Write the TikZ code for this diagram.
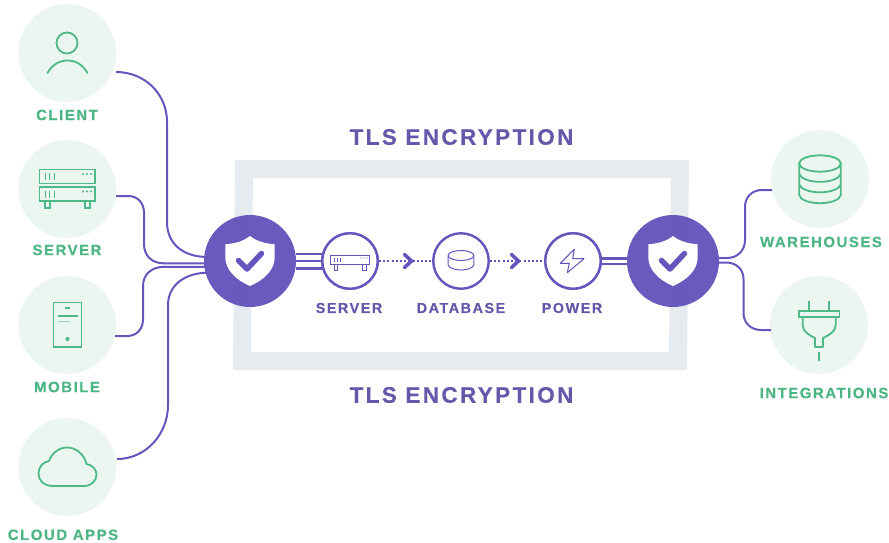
\documentclass[tikz,border=0pt]{standalone}
\usepackage{fontspec}
\setmainfont{Liberation Sans}
\newfontfamily\labfont[LetterSpace=10,BoldFeatures={FakeBold=0.25}]{Liberation Sans}
\newfontfamily\tlsfont[LetterSpace=10.5,BoldFeatures={FakeBold=0.25}]{Liberation Sans}
\definecolor{vio}{HTML}{6655BC}
\definecolor{viotext}{HTML}{6557A9}
\definecolor{grn}{HTML}{4DB986}
\definecolor{grntext}{HTML}{4CB583}
\definecolor{mint}{HTML}{ECF6F1}
\definecolor{band}{HTML}{E6EBEF}
\tikzset{
  x=1pt,y=-1pt,
  conn/.style={draw=vio,line width=2pt},
  stripe/.style={draw=vio,line width=2.8pt},
  bub/.style={circle,fill=mint,minimum size=98pt,inner sep=0pt},
  glab/.style={text=grntext,font=\labfont\bfseries\fontsize{15}{16}\selectfont,inner sep=0pt},
  vlab/.style={text=viotext,font=\labfont\bfseries\fontsize{14.5}{16}\selectfont,inner sep=0pt},
  tls/.style={text=viotext,font=\tlsfont\bfseries\fontsize{22.5}{24}\selectfont,inner sep=0pt},
  shieldc/.style={circle,fill=vio,minimum size=92pt,inner sep=0pt,fill opacity=.97},
  stage/.style={circle,draw=vio,fill=white,line width=2.4pt,minimum size=55.5pt,inner sep=0pt},
  gicon/.style={draw=grn,line width=1.8pt},
  vicon/.style={draw=vio,line width=1pt},
  chev/.style={draw=vio,line width=3.6pt,line cap=round,line join=round},
  dots/.style={draw=vio,line width=2pt,dash pattern=on 2pt off 2.2pt},
  pics/shieldmark/.style={code={
    \fill[white] (0,-25) .. controls (-7,-19.5) and (-15,-17.5) .. (-24.7,-16.7)
      -- (-24.7,-4) .. controls (-24.7,9) and (-14,19) .. (0,25)
      .. controls (14,19) and (24.7,9) .. (24.7,-4) -- (24.7,-16.7)
      .. controls (15,-17.5) and (7,-19.5) .. (0,-25) -- cycle;
    \draw[vio,line width=5.5pt,line cap=round,line join=round] (-11.5,-.5) -- (-3,8) -- (11.5,-7.5);
  }}
}
\begin{document}
\begin{tikzpicture}
\useasboundingbox (0,0) rectangle (889,542);
% gray band
\fill[band,even odd rule] (235,160) -- (689,160) -- (687,370) -- (233,370) -- cycle
  (253,178) -- (671,178) -- (669,352) -- (251,352) -- cycle;
% bubbles
\node[bub] (client) at (67.3,53) {};
\node[bub] (server) at (67.3,189) {};
\node[bub] (mobile) at (67.3,325) {};
\node[bub] (cloud) at (67.3,467) {};
\node[bub] (ware) at (820,179) {};
\node[bub] (integ) at (819,325) {};
% free ends
\coordinate (c1) at (116,72);
\coordinate (c2) at (116,196);
\coordinate (c3) at (115,336);
\coordinate (c4) at (117,459);
\coordinate (c5) at (772,190);
\coordinate (c6) at (771,330);
\coordinate (l1) at (208,257);
\coordinate (l2) at (208,263.3);
\coordinate (l3) at (208,266.8);
\coordinate (l4) at (208,272.7);
\coordinate (r1) at (715,258);
\coordinate (r2) at (715,262.5);
% connectors on the left and right
\draw[conn] (c1) .. controls (145,72) and (167,94) .. (167,122) -- (167,222)
  .. controls (167,243) and (182,257) .. (l1);
\draw[conn] (c2) -- (128,196) .. controls (138,196) and (144,203) .. (144,213) -- (144,244)
  .. controls (144,256) and (152,263.3) .. (164,263.3) -- (l2);
\draw[conn] (c3) -- (127,336) .. controls (137,336) and (143,329) .. (143,319) -- (143,286)
  .. controls (143,274) and (152,266.8) .. (164,266.8) -- (l3);
\draw[conn] (c4) .. controls (146,459) and (168,434) .. (168,405) -- (168,305)
  .. controls (168,286) and (184,272.7) .. (l4);
\draw[conn] (c5) -- (762,190) .. controls (752,190) and (745,197) .. (745,207) -- (745,240)
  .. controls (745,251) and (737,258) .. (727,258) -- (r1);
\draw[conn] (c6) -- (761,330) .. controls (751,330) and (743.5,323) .. (743.5,313) -- (743.5,279)
  .. controls (743.5,269) and (736,262.5) .. (726,262.5) -- (r2);
% shields
\node[shieldc] (sL) at (250,261) {};
\node[shieldc] (sR) at (673,261) {};
\pic at (sL) {shieldmark};
\pic at (sR) {shieldmark};
% stages
\node[stage] (st1) at (350,261) {};
\node[stage] (st2) at (461,261) {};
\node[stage] (st3) at (573,261) {};
\draw[stripe] ([yshift=-7.5pt]sL.east) -- ([yshift=-7.5pt]st1.center);
\draw[stripe] (sL.east) -- (st1.center);
\draw[stripe] ([yshift=7pt]sL.east) -- ([yshift=7pt]st1.center);
\draw[stripe] ([yshift=-3pt]st3.center) -- ([yshift=-3pt]sR.west);
\draw[stripe] ([yshift=2.5pt]st3.center) -- ([yshift=2.5pt]sR.west);
\node[stage] at (st1) {};
\node[stage] at (st3) {};
\draw[dots] (st1.east) -- (st2.west);
\draw[dots] (st2.east) -- (st3.west);
\draw[chev] (404.5,254.5) -- (411.5,261) -- (404.5,267.5);
\draw[chev] (511.5,254.5) -- (518.5,261) -- (511.5,267.5);
% client icon
\draw[gicon] (67,43) circle (10.5);
\draw[gicon,line cap=round] (47.5,73) .. controls (52,65) and (59,60.5) .. (67.5,60.5) .. controls (76,60.5) and (83,65) .. (87.5,73);
% server icon
\draw[gicon] (39.5,169.5) rectangle (95,183.5);
\draw[gicon] (39.5,187) rectangle (95,201);
\draw[gicon] (44.7,201) rectangle (50,208);
\draw[gicon] (85,201) rectangle (90,208);
\foreach \yy in {173,190.5}{
  \draw[grn,line width=1pt] (45,\yy) -- +(0,7) (49.5,\yy) -- +(0,7) (54,\yy) -- +(0,7);
  \fill[grn] (83,\yy+1) circle (1.1) (87,\yy+1) circle (1.1) (91,\yy+1) circle (1.1);
}
% mobile icon
\draw[gicon] (53.5,302.5) rectangle (81.5,347);
\draw[grn,line width=1.6pt] (65,308) -- (70,308);
\draw[grn,line width=1.6pt] (58,316) -- (78,316);
\draw[grn!50!mint,line width=1.6pt] (58,321.5) -- (70,321.5);
\fill[grn] (67.5,339) circle (2.1);
% cloud icon
\draw[gicon] (53,486) -- (84,486) .. controls (92,486) and (96.5,480) .. (96.5,474.5)
  .. controls (96.5,469) and (92,465) .. (86.5,464)
  .. controls (84,454) and (76,447.5) .. (67,447.5)
  .. controls (59,447.5) and (52,453) .. (49,461)
  .. controls (43,462) and (38.5,467) .. (38.5,473.5)
  .. controls (38.5,480.5) and (44,486) .. (53,486) -- cycle;
% warehouse icon
\draw[gicon] (820,163.5) ellipse (20.8 and 8.2);
\draw[gicon] (799.2,163.5) -- (799.2,195) .. controls (800,200) and (810,203.2) .. (820,203.2) .. controls (830,203.2) and (840,200) .. (840.8,195) -- (840.8,163.5);
\draw[gicon] (799.2,174) .. controls (801,179) and (810,181.8) .. (820,181.8) .. controls (830,181.8) and (839,179) .. (840.8,174);
\draw[gicon] (799.2,184.5) .. controls (801,189.5) and (810,192.3) .. (820,192.3) .. controls (830,192.3) and (839,189.5) .. (840.8,184.5);
% plug icon
\draw[gicon] (809,301) -- (809,311) (829,301) -- (829,311);
\draw[gicon] (799,311) rectangle (839.5,317);
\draw[gicon,line join=round] (802.7,317) -- (802.7,325) .. controls (803,332) and (809,335) .. (815,338) -- (815,347) -- (823,347) -- (823,338)
  .. controls (829,335) and (835.5,332) .. (835.7,325) -- (835.7,317);
\draw[gicon] (819,352) -- (819,361);
% stage icons
\draw[vicon] (330.5,255.5) rectangle (369.7,264);
\draw[vicon] (334,264) rectangle (337.7,270.7);
\draw[vicon] (362,264) rectangle (366,270.7);
\draw[vicon] (334,257.5) -- (334,262) (337,257.5) -- (337,262) (340,257.5) -- (340,262);
\fill[vio] (361,258) circle (.7) (364,258) circle (.7) (367,258) circle (.7);
\draw[vicon] (461,255.5) ellipse (12.8 and 5);
\draw[vicon] (448.2,255.5) -- (448.2,265) .. controls (449,268) and (455,270) .. (461,270) .. controls (467,270) and (473,268) .. (473.8,265) -- (473.8,255.5);
\draw[vicon,line join=round] (574.3,249.3) -- (560.3,263.3) -- (569.3,263.3) -- (567.3,272.7) -- (584,258.7) -- (572.7,258.7) -- cycle;
% labels
\node[glab] (t1) at (67,115) {CLIENT};
\node[glab] (t2) at (67,250) {SERVER};
\node[glab] (t3) at (67,387) {MOBILE};
\node[glab] (t4) at (63,534.8) {CLOUD APPS};
\node[glab] (t5) at (821,242) {WAREHOUSES};
\node[glab] (t6) at (824,393) {INTEGRATIONS};
\node[vlab] (v1) at (349,308) {SERVER};
\node[vlab] (v2) at (461,308) {DATABASE};
\node[vlab] (v3) at (572,308) {POWER};
\node[tls] (h1) at (461.5,137) {TLS ENCRYPTION};
\node[tls] (h2) at (461.5,395) {TLS ENCRYPTION};
\end{tikzpicture}
\end{document}
